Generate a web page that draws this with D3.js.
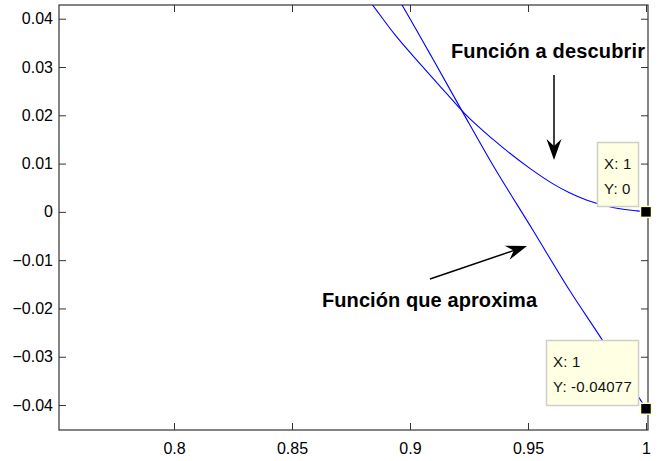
<!DOCTYPE html>
<html>
<head>
<meta charset="utf-8">
<script src="https://cdn.jsdelivr.net/npm/d3@7"></script>
<style>
  body { margin: 0; background: #fff; }
  svg { display: block; }
  .tick text { font-family: "Liberation Sans", Arial, sans-serif; font-size: 16px; fill: #000; }
  .tick line { stroke: #333; }
</style>
</head>
<body>
<div id="chart"></div>
<script>
// values
var xTicks = [0.8, 0.85, 0.9, 0.95, 1];
var yTicks = [-0.04, -0.03, -0.02, -0.01, 0, 0.01, 0.02, 0.03, 0.04];

// "Funcion a descubrir"
var xTarget = [0.8808, 0.8839, 0.8936, 0.9042, 0.9148, 0.9233, 0.9352, 0.9508, 0.9606, 0.9678, 0.9750, 0.9860, 0.9962, 1.0];
var yTarget = [0.0450, 0.0430, 0.0367, 0.0307, 0.0249, 0.0203, 0.0150, 0.0090, 0.0058, 0.0039, 0.0024, 0.0009, 0.0002, 0];

// "Funcion que aproxima"
var xApprox = [0.8938, 0.8962, 0.9093, 0.9225, 0.9339, 0.9521, 0.9678, 0.9809, 1.0];
var yApprox = [0.0452, 0.0432, 0.0320, 0.0205, 0.0107, -0.0038, -0.0164, -0.0261, -0.04077];

var tips = [
  {x: 1, y: 0, label: ["X: 1", "Y: 0"], box: [597, 142, 41, 64]},
  {x: 1, y: -0.04077, label: ["X: 1", "Y: -0.04077"], box: [546, 340, 92, 65]}
];

var width = 660, height = 461,
    margin = {top: 5, right: 12, bottom: 31, left: 59},
    innerWidth = width - margin.left - margin.right,
    innerHeight = height - margin.top - margin.bottom;

var xScale = d3.scaleLinear().domain([0.75127, 1.00085]).range([0, innerWidth]);
var yScale = d3.scaleLinear().domain([-0.04517, 0.04284]).range([innerHeight, 0]);

var svg = d3.select("#chart").append("svg")
    .attr("width", width)
    .attr("height", height);

var g = svg.append("g")
    .attr("transform", "translate(" + margin.left + "," + margin.top + ")");

g.append("clipPath").attr("id", "clip")
  .append("rect").attr("width", innerWidth).attr("height", innerHeight);

// axes, ticks pointing inward like matlab
var fmt = function(d) { return d === 0 ? "0" : d3.format("")(+d.toFixed(4)); };

g.append("g")
    .attr("transform", "translate(0," + innerHeight + ")")
    .call(d3.axisBottom(xScale).tickValues(xTicks).tickSizeInner(-7).tickSizeOuter(0).tickPadding(13).tickFormat(fmt))
    .call(function(a) { a.select(".domain").remove(); });

g.append("g")
    .call(d3.axisTop(xScale).tickValues(xTicks).tickSizeInner(-7).tickSizeOuter(0).tickFormat(""))
    .call(function(a) { a.select(".domain").remove(); });

g.append("g")
    .call(d3.axisLeft(yScale).tickValues(yTicks).tickSizeInner(-7).tickSizeOuter(0).tickPadding(6).tickFormat(fmt))
    .call(function(a) { a.select(".domain").remove(); });

g.append("g")
    .attr("transform", "translate(" + innerWidth + ",0)")
    .call(d3.axisRight(yScale).tickValues(yTicks).tickSizeInner(-7).tickSizeOuter(0).tickFormat(""))
    .call(function(a) { a.select(".domain").remove(); });

g.append("rect")
    .attr("x", 0).attr("y", 0)
    .attr("width", innerWidth).attr("height", innerHeight)
    .attr("fill", "none")
    .attr("stroke", "#333")
    .attr("stroke-width", 1.2);

// curves
var line = d3.line()
    .x(function(d) { return xScale(d[0]); })
    .y(function(d) { return yScale(d[1]); })
    .curve(d3.curveMonotoneX);

var plot = g.append("g").attr("clip-path", "url(#clip)");

plot.append("path")
    .datum(d3.zip(xTarget, yTarget))
    .attr("d", line)
    .attr("fill", "none")
    .attr("stroke", "#0000ff")
    .attr("stroke-width", 1.1);

plot.append("path")
    .datum(d3.zip(xApprox, yApprox))
    .attr("d", line)
    .attr("fill", "none")
    .attr("stroke", "#0000ff")
    .attr("stroke-width", 1.1);

// annotations
function arrow(x1, y1, x2, y2) {
  var ang = Math.atan2(y2 - y1, x2 - x1) * 180 / Math.PI;
  svg.append("line")
      .attr("x1", x1).attr("y1", y1)
      .attr("x2", x2 - 12 * Math.cos(ang * Math.PI / 180))
      .attr("y2", y2 - 12 * Math.sin(ang * Math.PI / 180))
      .attr("stroke", "#000")
      .attr("stroke-width", 1.5);
  svg.append("path")
      .attr("d", "M0,0 L-21,-7.5 L-14,0 L-21,7.5 Z")
      .attr("transform", "translate(" + x2 + "," + y2 + ") rotate(" + ang + ")")
      .attr("fill", "#000");
}

arrow(554, 75, 554, 160);
arrow(430, 279, 527, 246);

svg.append("text")
    .attr("x", 451).attr("y", 58)
    .attr("textLength", 194)
    .attr("lengthAdjust", "spacing")
    .style("font-family", "'Liberation Sans', Arial, sans-serif")
    .style("font-weight", "bold")
    .style("font-size", "20px")
    .text("Función a descubrir");

svg.append("text")
    .attr("x", 322).attr("y", 307)
    .attr("textLength", 215)
    .attr("lengthAdjust", "spacing")
    .style("font-family", "'Liberation Sans', Arial, sans-serif")
    .style("font-weight", "bold")
    .style("font-size", "20px")
    .text("Función que aproxima");

// data tips
tips.forEach(function(t) {
  var b = t.box;
  svg.append("rect")
      .attr("x", b[0] + 0.5).attr("y", b[1] + 0.5)
      .attr("width", b[2]).attr("height", b[3])
      .attr("fill", "#ffffe4")
      .attr("stroke", "#cfcfc8")
      .attr("stroke-width", 1.5);
  t.label.forEach(function(s, i) {
    svg.append("text")
        .attr("x", b[0] + 7)
        .attr("y", b[1] + 27 + i * 24.5)
        .style("font-family", "'Liberation Sans', Arial, sans-serif")
        .style("font-size", "15px")
        .style("letter-spacing", "0.2px")
        .attr("fill", "#111")
        .text(s);
  });
  g.append("rect")
      .attr("x", xScale(t.x) - 5.5)
      .attr("y", yScale(t.y) - 5.5)
      .attr("width", 11).attr("height", 11)
      .attr("fill", "#000")
      .attr("stroke", "#ffffc8")
      .attr("stroke-width", 1.5);
});
</script>
</body>
</html>
